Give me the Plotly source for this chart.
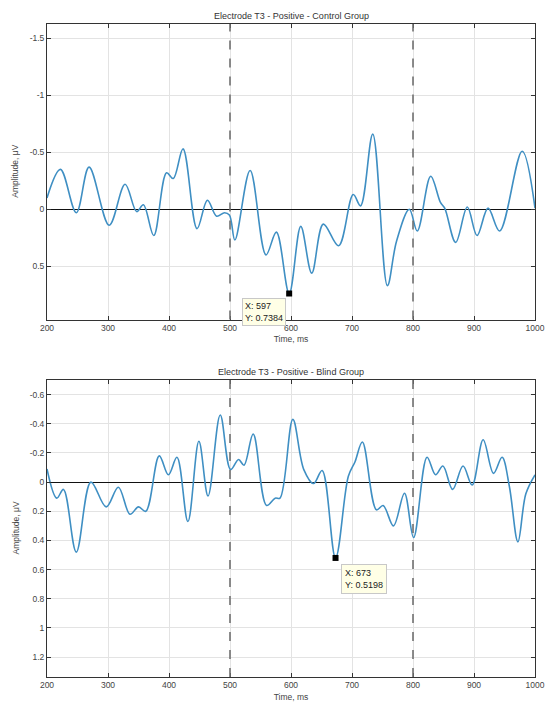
import plotly.graph_objects as go

# ---------------- data ----------------
ctrl_t = [200, 222, 248, 269, 302, 328, 347, 358, 375, 396, 407, 423, 446, 463, 478, 491, 499,
          508, 533, 559, 576, 597, 616, 634, 653, 678, 702, 714, 734, 758, 773, 794, 807, 829,
          845, 852, 870, 889, 905, 923, 942, 979, 1000]
ctrl_v = [-0.10, -0.35, 0.03, -0.37, 0.14, -0.22, 0.02, -0.04, 0.23, -0.32, -0.27, -0.53, 0.17,
          -0.08, 0.06, 0.03, 0.05, 0.27, -0.34, 0.40, 0.20, 0.7384, 0.15, 0.56, 0.13, 0.32, -0.13,
          -0.03, -0.66, 0.67, 0.28, 0.0, 0.19, -0.29, -0.06, -0.01, 0.29, -0.02, 0.23, -0.01,
          0.19, -0.51, -0.01]

blind_t = [200, 216, 227, 248, 272, 297, 317, 336, 350, 362, 384, 399, 413, 431, 449, 464, 484,
           501, 514, 523, 538, 560, 574, 582, 603, 621, 637, 651, 673, 694, 705, 717, 740, 751,
           768, 786, 801, 823, 837, 849, 865, 882, 897, 915, 932, 946, 958, 972, 985, 1000]
blind_v = [-0.09, 0.11, 0.05, 0.48, 0.0, 0.17, 0.035, 0.22, 0.17, 0.20, -0.18, -0.05, -0.17, 0.27,
           -0.28, 0.095, -0.46, -0.086, -0.155, -0.116, -0.33, 0.16, 0.11, 0.11, -0.43, -0.086,
           0.01, -0.08, 0.5198, -0.04, -0.14, -0.275, 0.19, 0.16, 0.30, 0.076, 0.38, -0.17, -0.05,
           -0.11, 0.05, -0.11, 0.02, -0.29, -0.06, -0.17, 0.03, 0.41, 0.08, -0.05]

titles = ["Electrode T3 - Positive - Control Group", "Electrode T3 - Positive - Blind Group"]
event_lines = [500, 800]
tips = [(597, 0.7384), (673, 0.5198)]

x_ticks = list(range(200, 1001, 100))
y1_ticks = [-1.5, -1, -0.5, 0, 0.5]
y1_labels = ["-1.5", "-1", "-0.5", "0", "0.5"]
y2_ticks = [-0.6, -0.4, -0.2, 0, 0.2, 0.4, 0.6, 0.8, 1.0, 1.2]
y2_labels = ["-0.6", "-0.4", "-0.2", "0", "0.2", "0.4", "0.6", "0.8", "1", "1.2"]

# ---------------- style ----------------
FONT = "Liberation Sans, Arial, sans-serif"
LINE = "#3f8fc3"
W, H = 545, 707
ML, MR, MT, MB = 47, 10, 24, 30
PH = H - MT - MB
dom1 = [(677 - 319.5) / PH, 1.0]
dom2 = [0.0, (677 - 380) / PH]

fig = go.Figure()
fig.add_trace(go.Scatter(x=ctrl_t, y=ctrl_v, mode="lines", line=dict(color=LINE, width=1.6, shape="spline", smoothing=1.0),
                         xaxis="x", yaxis="y", hoverinfo="skip"))
fig.add_trace(go.Scatter(x=blind_t, y=blind_v, mode="lines", line=dict(color=LINE, width=1.6, shape="spline", smoothing=1.0),
                         xaxis="x2", yaxis="y2", hoverinfo="skip"))
for i, (tx, ty) in enumerate(tips):
    fig.add_trace(go.Scatter(x=[tx], y=[ty], mode="markers",
                             marker=dict(symbol="square", size=6, color="black"),
                             xaxis="x" if i == 0 else "x2", yaxis="y" if i == 0 else "y2", hoverinfo="skip"))

axis_common = dict(
    tickvals=x_ticks, ticks="inside", ticklen=4, tickcolor="#333333", mirror="allticks",
    showline=True, linecolor="#333333", linewidth=1, showgrid=True, gridcolor="#e3e3e3",
    zeroline=False, tickfont=dict(family=FONT, size=8.5, color="#444444"),
    range=[200, 1000], automargin=False,
)
yax_common = dict(
    ticks="inside", ticklen=4, tickcolor="#333333", mirror="allticks",
    showline=True, linecolor="#333333", linewidth=1, showgrid=True, gridcolor="#e3e3e3",
    zeroline=True, zerolinecolor="#111111", zerolinewidth=1.3,
    tickfont=dict(family=FONT, size=8.5, color="#444444"), automargin=False,
)

fig.update_layout(
    width=W, height=H,
    margin=dict(l=ML, r=MR, t=MT, b=MB),
    paper_bgcolor="white", plot_bgcolor="white",
    showlegend=False, hovermode=False,
    font=dict(family=FONT, size=8.5, color="#333333"),
    xaxis=dict(axis_common, domain=[0, 1], anchor="y",
               title=dict(text="Time, ms", font=dict(family=FONT, size=8.5, color="#444444"), standoff=4)),
    yaxis=dict(yax_common, domain=dom1, anchor="x", range=[0.967, -1.626],
               tickvals=y1_ticks, ticktext=y1_labels),
    xaxis2=dict(axis_common, domain=[0, 1], anchor="y2",
                title=dict(text="Time, ms", font=dict(family=FONT, size=8.5, color="#444444"), standoff=4)),
    yaxis2=dict(yax_common, domain=dom2, anchor="x2", range=[1.336, -0.70],
                tickvals=y2_ticks, ticktext=y2_labels),
)

shapes = []
for xr, yr in (("x", "y domain"), ("x2", "y2 domain")):
    for ev in event_lines:
        shapes.append(dict(type="line", xref=xr, yref=yr, x0=ev, x1=ev, y0=0, y1=1,
                           line=dict(color="#707070", width=1.6, dash="dash"), layer="above"))
fig.update_layout(shapes=shapes)

ann = []
for t, dom in zip(titles, (dom1, dom2)):
    ann.append(dict(text=t, xref="paper", yref="paper", x=0.5, y=dom[1], yshift=1,
                    xanchor="center", yanchor="bottom", showarrow=False,
                    font=dict(family=FONT, size=9, color="#333333")))
    ann.append(dict(text="Amplitude, μV", xref="paper", yref="paper", x=-32 / (W - ML - MR),
                    y=(dom[0] + dom[1]) / 2, xanchor="center", yanchor="middle", textangle=-90,
                    showarrow=False, font=dict(family=FONT, size=8.5, color="#444444")))

# data tips
ann.append(dict(text=f"X: {tips[0][0]}<br>Y: {tips[0][1]}", xref="x", yref="y",
                x=tips[0][0], y=tips[0][1], xanchor="right", yanchor="top", xshift=-3, yshift=-5,
                showarrow=False, align="left", bgcolor="#ffffe6", bordercolor="#c8c8c8",
                borderwidth=1, borderpad=2, font=dict(family=FONT, size=9, color="#222222")))
ann.append(dict(text=f"X: {tips[1][0]}<br>Y: {tips[1][1]}", xref="x2", yref="y2",
                x=tips[1][0], y=tips[1][1], xanchor="left", yanchor="top", xshift=5, yshift=-6,
                showarrow=False, align="left", bgcolor="#ffffe6", bordercolor="#c8c8c8",
                borderwidth=1, borderpad=3, font=dict(family=FONT, size=9, color="#222222")))
fig.update_layout(annotations=ann)

fig.write_html("out.html", config={"displayModeBar": False},
               post_script="document.body.style.margin='0';document.body.style.padding='0';")
